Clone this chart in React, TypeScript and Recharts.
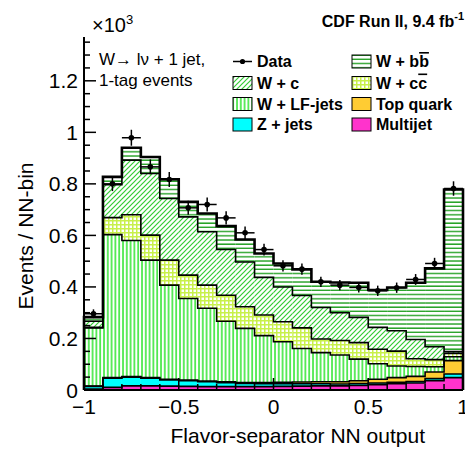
import { ComposedChart, Bar, Line, Scatter, XAxis, YAxis, ErrorBar } from "recharts";

// bin centres of the NN output histogram (20 bins from -1 to 1)
const binCenters = [
  -0.95, -0.85, -0.75, -0.65, -0.55, -0.45, -0.35, -0.25, -0.15, -0.05,
  0.05, 0.15, 0.25, 0.35, 0.45, 0.55, 0.65, 0.75, 0.85, 0.95,
];
const binHalfWidth = 0.05;

// events per bin, x10^3, stacked bottom -> top
const multijet = [0.004, 0.01, 0.016, 0.016, 0.015, 0.014, 0.013, 0.013, 0.013, 0.013, 0.014, 0.015, 0.016, 0.016, 0.018, 0.021, 0.024, 0.027, 0.036, 0.048];
const zJets = [0.01, 0.036, 0.034, 0.03, 0.024, 0.022, 0.019, 0.015, 0.012, 0.011, 0.01, 0.009, 0.008, 0.007, 0.007, 0.006, 0.006, 0.006, 0.008, 0.014];
const topQuark = [0.001, 0.002, 0.002, 0.002, 0.003, 0.003, 0.003, 0.004, 0.004, 0.005, 0.006, 0.007, 0.008, 0.009, 0.011, 0.015, 0.018, 0.02, 0.026, 0.052];
const wLF = [0.226, 0.555, 0.528, 0.456, 0.365, 0.316, 0.282, 0.235, 0.21, 0.182, 0.157, 0.13, 0.113, 0.104, 0.084, 0.06, 0.045, 0.038, 0.02, 0.015];
const wCC = [0.002, 0.066, 0.1, 0.097, 0.097, 0.091, 0.09, 0.101, 0.084, 0.08, 0.078, 0.08, 0.053, 0.056, 0.064, 0.056, 0.058, 0.03, 0.028, 0.013];
const wC = [0.024, 0.128, 0.212, 0.239, 0.239, 0.226, 0.207, 0.177, 0.174, 0.146, 0.135, 0.126, 0.122, 0.108, 0.098, 0.085, 0.079, 0.075, 0.05, 0.007];
const wBB = [0.016, 0.03, 0.048, 0.064, 0.075, 0.058, 0.071, 0.091, 0.087, 0.093, 0.091, 0.101, 0.1, 0.117, 0.134, 0.145, 0.168, 0.22, 0.304, 0.629];

const dataValues = [0.296, 0.8, 0.979, 0.866, 0.817, 0.707, 0.72, 0.668, 0.61, 0.545, 0.482, 0.469, 0.42, 0.407, 0.398, 0.385, 0.397, 0.429, 0.491, 0.782];
const dataErrors = [0.017, 0.028, 0.031, 0.029, 0.029, 0.027, 0.027, 0.026, 0.025, 0.023, 0.022, 0.022, 0.02, 0.02, 0.02, 0.02, 0.02, 0.021, 0.022, 0.028];

const xLabelTicks = [-1, -0.5, 0, 0.5, 1];
const yLabelTicks = [0, 0.2, 0.4, 0.6, 0.8, 1, 1.2];
const yMax = 1.37;

const xTicksAll = Array.from({ length: 21 }, (_, i) => +(-1 + i * 0.1).toFixed(2));
const yTicksAll = Array.from({ length: 28 }, (_, i) => +(i * 0.05).toFixed(2));

const layers = [
  { key: "multijet", values: multijet, fill: "#ff33cc" },
  { key: "zJets", values: zJets, fill: "#00ffff" },
  { key: "topQuark", values: topQuark, fill: "#ffcc33" },
  { key: "wLF", values: wLF, fill: "url(#pLF)" },
  { key: "wCC", values: wCC, fill: "url(#pCC)" },
  { key: "wC", values: wC, fill: "url(#pC)" },
  { key: "wBB", values: wBB, fill: "url(#pBB)" },
];

const barRows = binCenters.map((c, i) => {
  const row: Record<string, number> = { bin: c };
  layers.forEach((l) => (row[l.key] = l.values[i]));
  return row;
});

// cumulative tops per layer, used for the step outlines
const cumulative = layers.map((_, k) =>
  binCenters.map((_, i) => layers.slice(0, k + 1).reduce((s, l) => s + l.values[i], 0))
);

const edgeRows = (() => {
  const zero: Record<string, number> = { x: -1 };
  layers.forEach((l) => (zero[l.key] = 0));
  const rows: Record<string, number>[] = [zero];
  binCenters.forEach((c, i) => {
    const r: Record<string, number> = { x: c - binHalfWidth };
    layers.forEach((l, k) => (r[l.key] = cumulative[k][i]));
    rows.push(r);
  });
  const last: Record<string, number> = { x: 1 };
  layers.forEach((l, k) => (last[l.key] = cumulative[k][binCenters.length - 1]));
  rows.push(last);
  const end: Record<string, number> = { x: 1 };
  layers.forEach((l) => (end[l.key] = 0));
  rows.push(end);
  return rows;
})();

const dataRows = binCenters.map((c, i) => ({
  x: c,
  y: dataValues[i],
  ey: dataErrors[i],
  ex: binHalfWidth,
}));

const isMult = (v: number, step: number) => Math.abs(v / step - Math.round(v / step)) < 1e-6;
const fmtX = (v: number) => (v < 0 ? "\u2212" + String(-v) : String(v));

const LeftTick = (p: any) => {
  const v = p.payload.value;
  const major = isMult(v, 0.2);
  return (
    <g>
      <line x1={p.x} y1={p.y} x2={p.x + (major ? 12 : 6)} y2={p.y} stroke="#000" strokeWidth={1.5} />
      {major && yLabelTicks.includes(v) && (
        <text x={p.x - 6} y={p.y + 7.5} textAnchor="end" fontSize={21} fill="#000">
          {String(v)}
        </text>
      )}
    </g>
  );
};

const RightTick = (p: any) => {
  const major = isMult(p.payload.value, 0.2);
  return <line x1={p.x} y1={p.y} x2={p.x - (major ? 12 : 6)} y2={p.y} stroke="#000" strokeWidth={1.5} />;
};

const BottomTick = (p: any) => {
  const v = p.payload.value;
  const major = isMult(v, 0.5);
  return (
    <g>
      <line x1={p.x} y1={p.y} x2={p.x} y2={p.y - (major ? 12 : 6)} stroke="#000" strokeWidth={1.5} />
      {major && xLabelTicks.includes(v) && (
        <text x={p.x} y={p.y + 24} textAnchor="middle" fontSize={21} fill="#000">
          {fmtX(v)}
        </text>
      )}
    </g>
  );
};

const TopTick = (p: any) => {
  const major = isMult(p.payload.value, 0.5);
  return <line x1={p.x} y1={p.y} x2={p.x} y2={p.y + (major ? 12 : 6)} stroke="#000" strokeWidth={1.5} />;
};

const legendCol1 = [
  { label: "Data", fill: null },
  { label: "W + c", fill: "url(#pC)" },
  { label: "W + LF-jets", fill: "url(#pLF)" },
  { label: "Z + jets", fill: "#00ffff" },
];
const legendCol2 = [
  { label: "bb", fill: "url(#pBB)" },
  { label: "cc", fill: "url(#pCC)" },
  { label: "Top quark", fill: "#ffcc33" },
  { label: "Multijet", fill: "#ff33cc" },
];
const legendRowsY = [53.5, 75, 96, 116.5];

const LegendLabel = ({ label, x, y }: { label: string; x: number; y: number }) => {
  if (label === "bb" || label === "cc") {
    const q = label[0];
    return (
      <text x={x} y={y} fontSize={16} fontWeight="bold">
        W + {q}
        <tspan style={{ textDecoration: "overline" }}>{q}</tspan>
      </text>
    );
  }
  return (
    <text x={x} y={y} fontSize={16} fontWeight="bold">
      {label}
    </text>
  );
};

export default function App() {
  return (
    <div style={{ position: "relative", width: 465, height: 442, fontFamily: "'Liberation Sans', Arial, sans-serif" }}>
      <svg width={0} height={0} style={{ position: "absolute" }}>
        <defs>
          <pattern id="pBB" patternUnits="userSpaceOnUse" width={6} height={4.2}>
            <rect width={6} height={4.2} fill="#fff" />
            <line x1={0} y1={1} x2={6} y2={1} stroke="#1f9f1f" strokeWidth={1.4} />
          </pattern>
          <pattern id="pC" patternUnits="userSpaceOnUse" width={5} height={5}>
            <rect width={5} height={5} fill="#fff" />
            <path d="M0,5 L5,0 M-1,1 L1,-1 M4,6 L6,4" stroke="#33cc33" strokeWidth={1.2} />
          </pattern>
          <pattern id="pCC" patternUnits="userSpaceOnUse" width={4} height={4}>
            <rect width={4} height={4} fill="#fff" />
            <path d="M0,0.75 H4 M0.75,0 V4" stroke="#c8f04a" strokeWidth={1.5} />
          </pattern>
          <pattern id="pLF" patternUnits="userSpaceOnUse" width={3.8} height={4}>
            <rect width={3.8} height={4} fill="#fff" />
            <line x1={1} y1={0} x2={1} y2={4} stroke="#3ae63a" strokeWidth={1.6} />
          </pattern>
        </defs>
      </svg>
      <ComposedChart
        width={465}
        height={442}
        data={barRows}
        margin={{ top: 29, right: 10, bottom: 0, left: 0 }}
        barCategoryGap={0}
        barGap={0}
      >
        {layers.map((l) => (
          <Bar
            key={l.key}
            dataKey={l.key}
            stackId="stack"
            xAxisId="cat"
            yAxisId="left"
            fill={l.fill}
            isAnimationActive={false}
          />
        ))}
        {layers.map((l, k) => (
          <Line
            key={"o" + l.key}
            data={edgeRows}
            dataKey={l.key}
            xAxisId="num"
            yAxisId="left"
            type="stepAfter"
            stroke="#000"
            strokeWidth={k === layers.length - 1 ? 2.6 : 1.6}
            dot={false}
            activeDot={false}
            isAnimationActive={false}
          />
        ))}
        <Scatter
          data={dataRows}
          dataKey="y"
          xAxisId="num"
          yAxisId="left"
          fill="#000"
          isAnimationActive={false}
          shape={(p: any) => <circle cx={p.cx} cy={p.cy} r={2.8} fill="#000" />}
        >
          <ErrorBar dataKey="ey" direction="y" width={0} stroke="#000" strokeWidth={1.5} />
          <ErrorBar dataKey="ex" direction="x" width={0} stroke="#000" strokeWidth={1.5} />
        </Scatter>
        <XAxis
          xAxisId="num"
          dataKey="x"
          type="number"
          domain={[-1, 1]}
          ticks={xTicksAll}
          interval={0}
          height={60}
          tickSize={0}
          tickMargin={0}
          tick={<BottomTick />}
          axisLine={{ stroke: "#000", strokeWidth: 2 }}
          tickLine={false}
        />
        <XAxis xAxisId="cat" dataKey="bin" type="category" hide height={0} />
        <XAxis
          xAxisId="top"
          orientation="top"
          type="number"
          domain={[-1, 1]}
          ticks={xTicksAll}
          interval={0}
          height={0}
          tickSize={0}
          tickMargin={0}
          tick={<TopTick />}
          axisLine={{ stroke: "#000", strokeWidth: 2 }}
          tickLine={false}
        />
        <YAxis
          yAxisId="left"
          type="number"
          domain={[0, yMax]}
          ticks={yTicksAll}
          interval={0}
          width={76}
          tickSize={0}
          tickMargin={0}
          tick={<LeftTick />}
          axisLine={{ stroke: "#000", strokeWidth: 2 }}
          tickLine={false}
        />
        <YAxis
          yAxisId="right"
          orientation="right"
          type="number"
          domain={[0, yMax]}
          ticks={yTicksAll}
          interval={0}
          width={0}
          tickSize={0}
          tickMargin={0}
          tick={<RightTick />}
          axisLine={{ stroke: "#000", strokeWidth: 2 }}
          tickLine={false}
        />
      </ComposedChart>
      <svg width={465} height={442} style={{ position: "absolute", left: 0, top: 0, pointerEvents: "none" }}>
        <text x={84} y={24} fontSize={20}>
          ×10<tspan fontSize={13} dy={-8}>3</tspan>
        </text>
        <text x={456} y={19} fontSize={16} fontWeight="bold" textAnchor="end">
          CDF Run II, 9.4 fb<tspan fontSize={11} dy={-7}>-1</tspan>
        </text>
        <text x={91} y={57} fontSize={17}>W→ lν + 1 jet,</text>
        <text x={91} y={78} fontSize={17}>1-tag events</text>
        {legendCol1.map((e, i) => (
          <g key={e.label}>
            {e.fill ? (
              <rect x={225} y={legendRowsY[i] - 6.5} width={19} height={13} fill={e.fill} stroke="#000" strokeWidth={1} />
            ) : (
              <g>
                <line x1={225} y1={legendRowsY[i]} x2={244} y2={legendRowsY[i]} stroke="#000" strokeWidth={1.5} />
                <circle cx={234.5} cy={legendRowsY[i]} r={2.6} fill="#000" />
              </g>
            )}
            <LegendLabel label={e.label} x={249} y={legendRowsY[i] + 5.5} />
          </g>
        ))}
        {legendCol2.map((e, i) => (
          <g key={e.label}>
            <rect x={344} y={legendRowsY[i] - 6.5} width={19} height={13} fill={e.fill} stroke="#000" strokeWidth={1} />
            <LegendLabel label={e.label} x={368} y={legendRowsY[i] + 5.5} />
          </g>
        ))}
        <text x={25} y={228} fontSize={21} textAnchor="middle" transform="rotate(-90 25 228)">
          Events / NN-bin
        </text>
        <text x={417} y={435} fontSize={21} textAnchor="end">
          Flavor-separator NN output
        </text>
      </svg>
    </div>
  );
}
